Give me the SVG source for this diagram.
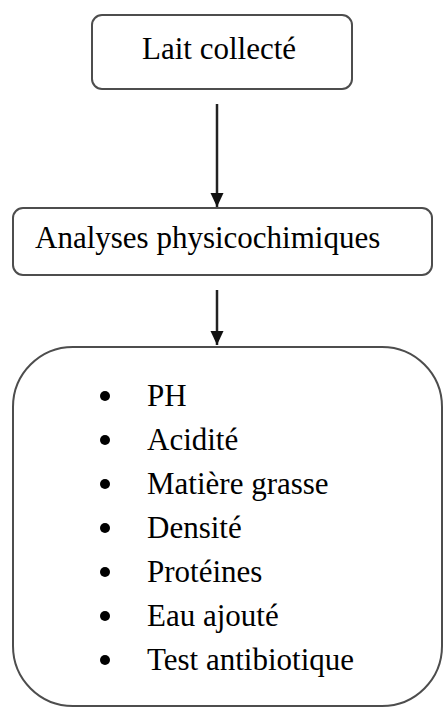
<svg xmlns="http://www.w3.org/2000/svg" width="444" height="709" viewBox="0 0 444 709">
<style>
.box{fill:#fff;stroke:#4d4d4d;stroke-width:2}
.t{font-family:"Liberation Serif","Times New Roman",serif;font-size:31px;fill:#000}
.ln{stroke:#222;stroke-width:2.5;fill:none}
</style>
<defs>
<marker id="ah" markerWidth="14" markerHeight="14" refX="14" refY="7" orient="auto" markerUnits="userSpaceOnUse" viewBox="0 0 14 14">
<path d="M0,0.5 L14,7 L0,13.5 Z" fill="#111"/>
</marker>
</defs>
<rect width="444" height="709" fill="#fff"/>
<g id="connectors">
<line class="ln" x1="217" y1="104" x2="217" y2="207" marker-end="url(#ah)" />
<line class="ln" x1="217" y1="290" x2="217" y2="345" marker-end="url(#ah)" />
</g>
<g id="node-lait">
<rect class="box" x="92" y="15" width="260" height="74" rx="10"/>
<text class="t" x="142" y="59">Lait collecté</text>
</g>
<g id="node-analyses">
<rect class="box" x="13" y="208" width="419" height="67" rx="10"/>
<text class="t" x="35" y="248">Analyses physicochimiques</text>
</g>
<g id="node-list">
<rect class="box" x="13" y="347" width="429" height="359" rx="60"/>
<g fill="#000">
<circle cx="105" cy="396" r="5"/>
<circle cx="105" cy="440" r="5"/>
<circle cx="105" cy="484" r="5"/>
<circle cx="105" cy="528" r="5"/>
<circle cx="105" cy="572" r="5"/>
<circle cx="105" cy="616" r="5"/>
<circle cx="105" cy="660" r="5"/>
</g>
<text class="t" x="147" y="406">PH</text>
<text class="t" x="147" y="450">Acidité</text>
<text class="t" x="147" y="494">Matière grasse</text>
<text class="t" x="147" y="538">Densité</text>
<text class="t" x="147" y="582">Protéines</text>
<text class="t" x="147" y="626">Eau ajouté</text>
<text class="t" x="147" y="670">Test antibiotique</text>
</g>
</svg>
